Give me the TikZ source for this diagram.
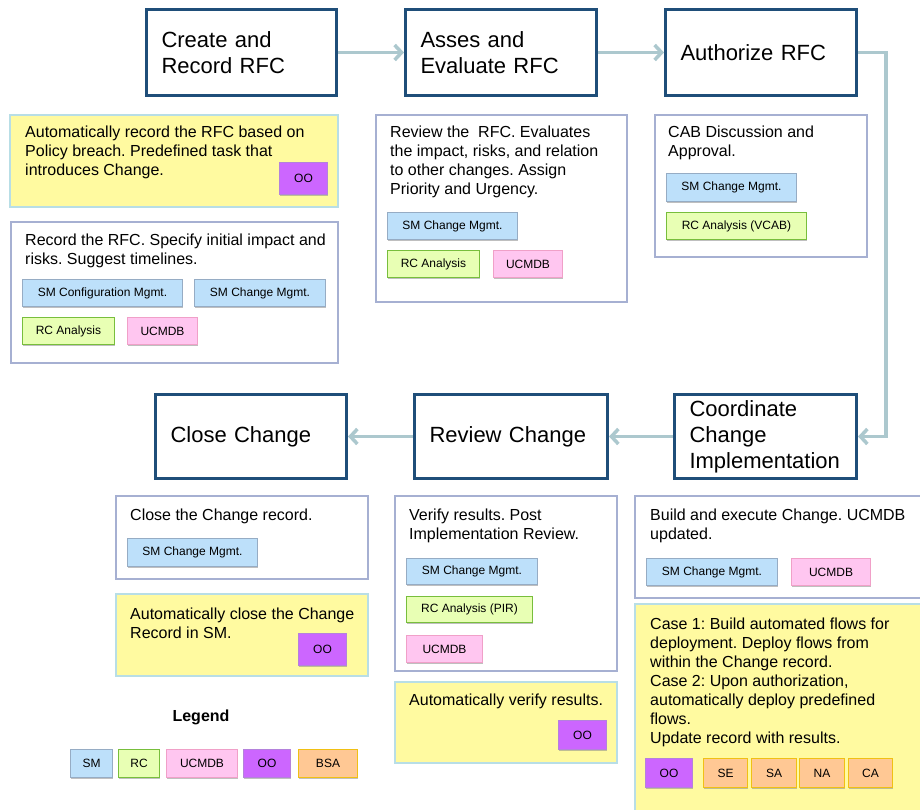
\documentclass[tikz,border=0pt]{standalone}
\usepackage{fontspec}
\setmainfont{Liberation Sans}
\usetikzlibrary{arrows.meta,shadows}
\frenchspacing
\definecolor{hdrblue}{RGB}{31,78,121}
\definecolor{boxgray}{RGB}{166,176,210}
\definecolor{ylwfill}{RGB}{255,250,160}
\definecolor{ylwdraw}{RGB}{184,222,230}
\definecolor{arrowc}{RGB}{172,200,206}
\definecolor{smfill}{RGB}{189,224,250}
\definecolor{smdraw}{RGB}{150,172,196}
\definecolor{rcfill}{RGB}{232,255,180}
\definecolor{rcdraw}{RGB}{120,190,60}
\definecolor{ucfill}{RGB}{255,198,240}
\definecolor{ucdraw}{RGB}{240,160,200}
\definecolor{oofill}{RGB}{204,102,255}
\definecolor{oodraw}{RGB}{180,130,220}
\definecolor{bsafill}{RGB}{255,200,148}
\definecolor{bsadraw}{RGB}{240,192,20}
\newcommand\rspanel[6]{%
  \pgfmathsetmacro\rsw{#5-#3}\pgfmathsetmacro\rsh{#6-#4}%
  \pgfmathsetmacro\rsx{(#3+#5)/2}\pgfmathsetmacro\rsy{(#4+#6)/2}%
  \node[#2,minimum width=\rsw pt,minimum height=\rsh pt] (#1) at (\rsx,\rsy) {};}
\newcommand\rschip[7]{%
  \pgfmathsetmacro\rsw{#5-#3-1.2}\pgfmathsetmacro\rsh{#6-#4-1.2}%
  \pgfmathsetmacro\rsx{(#3+#5)/2}\pgfmathsetmacro\rsy{(#4+#6)/2}%
  \node[#2,minimum width=\rsw pt,minimum height=\rsh pt] (#1) at (\rsx,\rsy) {#7};}
% text block: name, x, first baseline, text
\newcommand\rstext[4]{%
  \pgfmathsetmacro\rsy{#3-11.8}%
  \node[txt] (#1) at (#2,\rsy) {#4};}
\begin{document}
\begin{tikzpicture}[x=1pt,y=-1pt,
  hdr/.style={draw=hdrblue,line width=3pt,fill=white,align=left,inner xsep=15pt,inner ysep=0pt,
    font=\fontsize{22}{26}\selectfont},
  dbox/.style={draw=boxgray,line width=2.5pt,fill=white,inner sep=0pt},
  ybox/.style={draw=ylwdraw,line width=2.5pt,fill=ylwfill,inner sep=0pt},
  txt/.style={anchor=north west,align=left,inner sep=0pt,font=\fontsize{16}{19}\selectfont},
  chip/.style={line width=1.2pt,inner sep=0pt,font=\fontsize{12}{14}\selectfont,
    drop shadow={shadow xshift=0.6pt,shadow yshift=-1.8pt,fill=black!45,opacity=0.55}},
  sm/.style={chip,fill=smfill,draw=smdraw},
  rc/.style={chip,fill=rcfill,draw=rcdraw},
  uc/.style={chip,fill=ucfill,draw=ucdraw},
  oo/.style={chip,fill=oofill,draw=oodraw},
  bsa/.style={chip,fill=bsafill,draw=bsadraw},
  conn/.style={draw=arrowc,line width=3.5pt,-{Straight Barb[length=7pt,width=15pt]}}
]
\useasboundingbox (0,0) rectangle (920,809);
% header boxes
\node[hdr,text width=160pt,minimum width=190pt,minimum height=86pt] (create) at (241.5,52.5) {Create and\\Record RFC};
\node[hdr,text width=161pt,minimum width=191pt,minimum height=86pt] (asses) at (501,52.5) {Asses and\\Evaluate RFC};
\node[hdr,text width=161pt,minimum width=191pt,minimum height=86pt] (authorize) at (761,52.5) {Authorize RFC};
\node[hdr,text width=152pt,minimum width=182pt,minimum height=84pt] (coord) at (765.5,436.5) {Coordinate\\Change\\Implementation};
\node[hdr,text width=163pt,minimum width=193pt,minimum height=84pt] (review) at (511,436.5) {Review Change};
\node[hdr,text width=161pt,minimum width=191pt,minimum height=84pt] (close) at (251,436.5) {Close Change};
% panels
\rspanel{cy1}{ybox}{10}{115}{338}{207}
\rspanel{cw1}{dbox}{11}{222}{338}{363}
\rspanel{aw}{dbox}{376}{115}{627}{302}
\rspanel{zw}{dbox}{655}{115}{867}{257}
\rspanel{clw}{dbox}{116}{496}{368}{579}
\rspanel{cly}{ybox}{116}{594}{368}{676}
\rspanel{rw}{dbox}{395}{496}{617}{671}
\rspanel{ry}{ybox}{395}{682}{617}{763}
\rspanel{kw}{dbox}{635}{496}{930}{598}
\rspanel{ky}{ybox}{635}{604}{930}{820}
% texts
\rstext{tcy1}{25}{138}{Automatically record the RFC based on\\Policy breach. Predefined task that\\introduces Change.}
\rstext{tcw1}{25}{245}{Record the RFC. Specify initial impact and\\risks. Suggest timelines.}
\rstext{taw}{390}{138}{Review the\ \ RFC. Evaluates\\the impact, risks, and relation\\to other changes. Assign\\Priority and Urgency.}
\rstext{tzw}{668}{138}{CAB Discussion and\\Approval.}
\rstext{tclw}{130}{520}{Close the Change record.}
\rstext{tcly}{130}{619}{Automatically close the Change\\Record in SM.}
\rstext{trw}{409}{520}{Verify results. Post\\Implementation Review.}
\rstext{try}{409}{705}{Automatically verify results.}
\rstext{tkw}{650}{520}{Build and execute Change. UCMDB\\updated.}
\rstext{tky}{650}{629}{Case 1: Build automated flows for\\deployment. Deploy flows from\\within the Change record.\\Case 2: Upon authorization,\\automatically deploy predefined\\flows.\\Update record with results.}
% chips
\rschip{c1oo}{oo}{279}{162}{328}{195}{OO}
\rschip{c2sm}{sm}{22}{279}{183}{307}{SM Configuration Mgmt.}
\rschip{c2smc}{sm}{194}{279}{326}{307}{SM Change Mgmt.}
\rschip{c2rc}{rc}{22}{317}{115}{345}{RC Analysis}
\rschip{c2uc}{uc}{127}{317}{198}{345}{UCMDB}
\rschip{a1sm}{sm}{387}{212}{518}{240}{SM Change Mgmt.}
\rschip{a1rc}{rc}{387}{250}{480}{278}{RC Analysis}
\rschip{a1uc}{uc}{493}{250}{563}{278}{UCMDB}
\rschip{z1sm}{sm}{666}{173}{797}{202}{SM Change Mgmt.}
\rschip{z1rc}{rc}{666}{212}{807}{240}{RC Analysis (VCAB)}
\rschip{l1sm}{sm}{127}{538}{258}{567}{SM Change Mgmt.}
\rschip{l2oo}{oo}{298}{633}{347}{666}{OO}
\rschip{r1sm}{sm}{406}{558}{538}{585}{SM Change Mgmt.}
\rschip{r1rc}{rc}{406}{596}{533}{623}{RC Analysis (PIR)}
\rschip{r1uc}{uc}{406}{635}{483}{663}{UCMDB}
\rschip{r2oo}{oo}{558}{720}{607}{750}{OO}
\rschip{k1sm}{sm}{646}{558}{778}{586}{SM Change Mgmt.}
\rschip{k1uc}{uc}{791}{558}{871}{586}{UCMDB}
\rschip{k2oo}{oo}{645}{758}{693}{788}{OO}
\rschip{k2se}{bsa}{703}{758}{748}{788}{SE}
\rschip{k2sa}{bsa}{751}{758}{797}{788}{SA}
\rschip{k2na}{bsa}{799}{758}{845}{788}{NA}
\rschip{k2ca}{bsa}{848}{758}{893}{788}{CA}
% legend
\node[font=\bfseries\fontsize{16}{19}\selectfont] (legend) at (201,717) {Legend};
\rschip{lgsm}{sm}{70}{749}{113}{778}{SM}
\rschip{lgrc}{rc}{118}{749}{160}{778}{RC}
\rschip{lguc}{uc}{166}{749}{238}{778}{UCMDB}
\rschip{lgoo}{oo}{243}{749}{291}{778}{OO}
\rschip{lgbsa}{bsa}{298}{749}{358}{778}{BSA}
% connectors
\coordinate (bend) at (886,436.5);
\draw[conn] (create.east) -- (asses.west);
\draw[conn] (asses.east) -- (authorize.west);
\draw[conn] (authorize.east) -| (bend) -- (coord.east);
\draw[conn] (coord.west) -- (review.east);
\draw[conn] (review.west) -- (close.east);
\end{tikzpicture}
\end{document}
